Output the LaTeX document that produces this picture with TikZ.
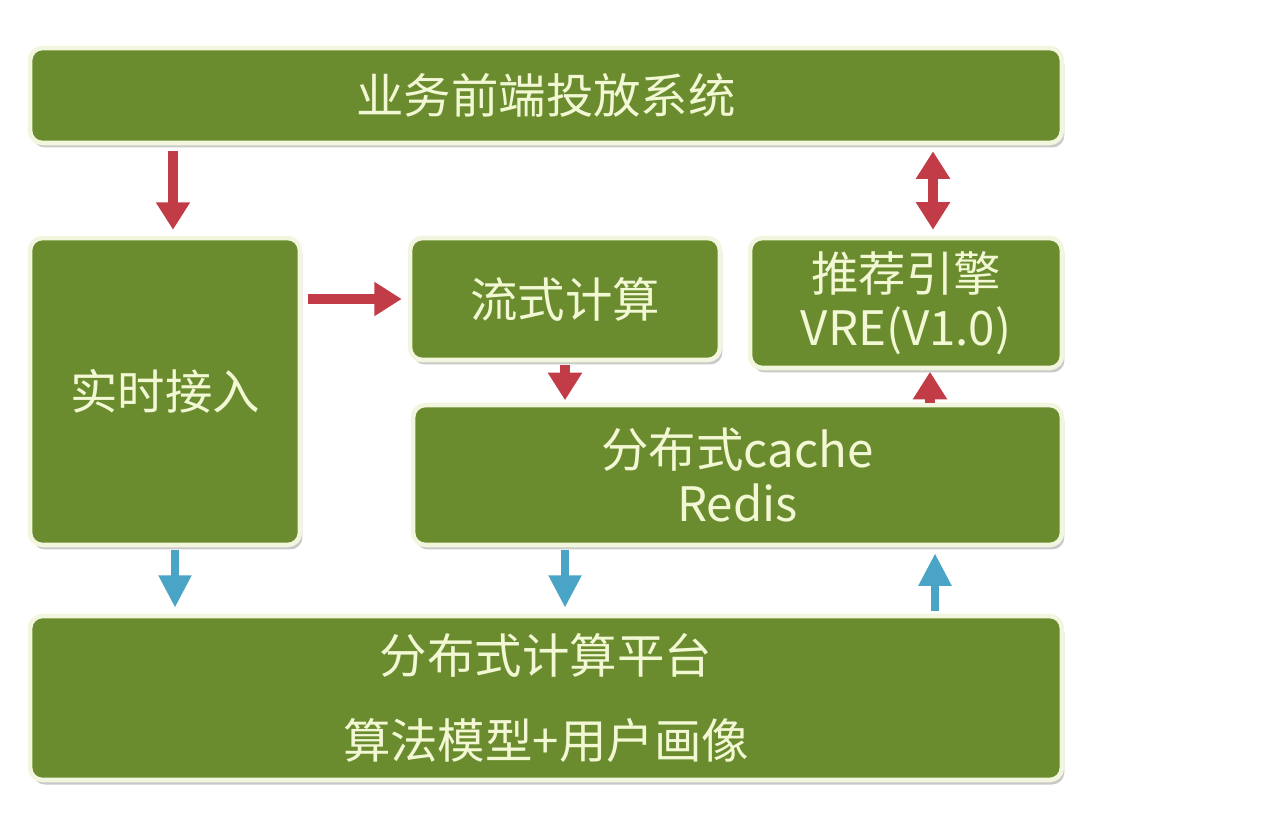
\documentclass[tikz,border=0pt]{standalone}
\usepackage{fontspec}
\newfontfamily\cjk{Noto Sans CJK SC}
\usetikzlibrary{positioning,arrows.meta,shadows}
\definecolor{leaf}{HTML}{6A8C2E}
\definecolor{rim}{HTML}{F3F6DE}
\definecolor{ink}{HTML}{F2F7D4}
\definecolor{brick}{HTML}{C13C46}
\definecolor{sky}{HTML}{4AA4C5}
\tikzset{
  blk/.style  ={draw=rim, line width=2.6pt, fill=leaf, rounded corners=7pt, text=ink, align=center, inner sep=0pt,
                font=\cjk\fontsize{27}{31}\selectfont,
                drop shadow={shadow xshift=.5mm, shadow yshift=-.9mm, opacity=.3, fill=black!70}},
  ra/.style   ={draw=brick, line width=5.5pt, -{Triangle[width=6.5mm,length=5.5mm]}, shorten <=1.2mm, shorten >=1.2mm},
  rab/.style  ={draw=brick, line width=5.5pt, {Triangle[width=6.5mm,length=5.5mm]}-{Triangle[width=6.5mm,length=5.5mm]}, shorten <=1.2mm, shorten >=1.2mm},
  ba/.style   ={draw=sky,   line width=5pt,   -{Triangle[width=6.2mm,length=6.5mm]}, shorten <=.6mm, shorten >=1.2mm},
}
\begin{document}
\begin{tikzpicture}[x=0.02cm,y=-0.02cm]
    \useasboundingbox (0,0) rectangle (1280,822);
    \node[blk,minimum width=20.64cm,minimum height=1.9cm] (top) at (546,95.5) {业务前端投放系统};
    \node[blk,minimum width=5.4cm,minimum height=6.14cm] (live) at (165,391.5) {实时接入};
    \node[blk,minimum width=6.2cm,minimum height=2.44cm] (stream) at (565,299) {流式计算};
    \node[blk,minimum width=6.24cm,minimum height=2.6cm] (engine) at (906,303) {推荐引擎\\VRE(V1.0)};
    \node[blk,minimum width=12.98cm,minimum height=2.8cm] (cache) at (737.5,475) {分布式cache\\Redis};
    \node[blk,minimum width=20.64cm,minimum height=3.28cm] (platform) at (546,698)
      {分布式计算平台\\[0.6cm]算法模型+用户画像};
    % red flows
    \draw[ra] ([xshift=1.6mm]live.north |- top.south) -- ([xshift=1.6mm]live.north);
    \draw[ra] (live.east |- stream.west) -- (stream.west);
    \draw[ra,shorten <=.5mm,shorten >=.5mm] (stream.south) -- (stream.south |- cache.north);
    \draw[rab] ([xshift=5.4mm]engine.north |- top.south) -- ([xshift=5.4mm]engine.north);
    \draw[ra,shorten <=0mm,shorten >=.3mm] ([xshift=4.8mm]engine.south |- cache.north) -- ([xshift=4.8mm]engine.south);
    % blue flows
    \draw[ba] ([xshift=2mm]live.south) -- ([xshift=2mm]live.south |- platform.north);
    \draw[ba] (cache.south -| stream.south) -- (platform.north -| stream.south);
    \draw[ba] ([xshift=5.8mm]engine.south |- platform.north) -- ([xshift=5.8mm]engine.south |- cache.south);
  \end{tikzpicture}
\end{document}
